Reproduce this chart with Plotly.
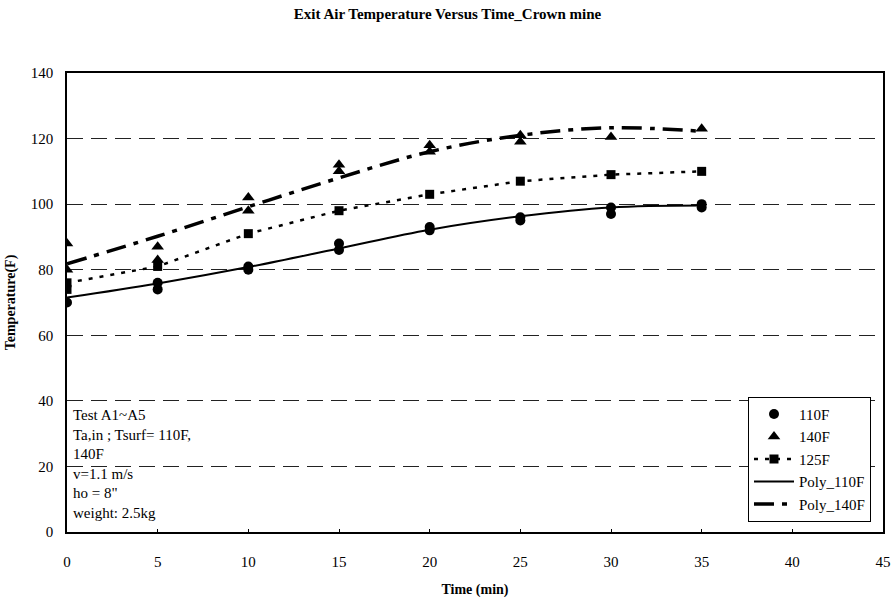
import plotly.graph_objects as go

# ---- data ----
t_110 = [0, 5, 5, 10, 10, 15, 15, 20, 20, 25, 25, 30, 30, 35, 35]
v_110 = [70, 74, 76, 80, 81, 86, 88, 92, 93, 95, 96, 97, 99, 99, 100]

t_140 = [0, 0, 5, 5, 10, 10, 15, 15, 20, 20, 25, 25, 30, 35]
v_140 = [80, 88, 83, 87, 98, 102, 110, 112, 116, 118, 119, 121, 120.5, 123]

t_125 = [0, 5, 10, 15, 20, 25, 30, 35]
v_125 = [76, 81, 91, 98, 103, 107, 109, 110]
t_125_extra = [0]
v_125_extra = [74]

t_poly = [0, 5, 10, 15, 20, 25, 30, 35]
poly_110 = [71.5, 75.8, 80.8, 86.5, 92.2, 96.3, 99.0, 99.6]
poly_140 = [81.8, 90.2, 99.2, 108.0, 116.0, 121.0, 123.3, 122.2]

x_ticks = [0, 5, 10, 15, 20, 25, 30, 35, 40, 45]
y_ticks = [0, 20, 40, 60, 80, 100, 120, 140]

note_lines = ["Test A1~A5", "Ta,in ; Tsurf= 110F,", "140F", "v=1.1 m/s", 'ho = 8"', "weight: 2.5kg"]

FONT = "Liberation Serif"

fig = go.Figure()
fig.add_trace(go.Scatter(x=t_110, y=v_110, mode="markers", name="110F",
                         marker=dict(symbol="circle", size=10, color="black")))
fig.add_trace(go.Scatter(x=t_140, y=v_140, mode="markers", name="140F",
                         marker=dict(symbol="triangle-up", size=11, color="black")))
fig.add_trace(go.Scatter(x=t_125, y=v_125, mode="lines+markers", name="125F",
                         line=dict(color="black", width=2.5, dash="4px,7px"),
                         marker=dict(symbol="square", size=9, color="black")))
fig.add_trace(go.Scatter(x=t_125_extra, y=v_125_extra, mode="markers", showlegend=False,
                         marker=dict(symbol="square", size=9, color="black")))
fig.add_trace(go.Scatter(x=t_poly, y=poly_110, mode="lines", name="Poly_110F",
                         line=dict(color="black", width=2, shape="spline")))
fig.add_trace(go.Scatter(x=t_poly, y=poly_140, mode="lines", name="Poly_140F",
                         line=dict(color="black", width=3.5, shape="spline", dash="20px,8px,5px,8px")))

fig.add_annotation(text="<br>".join(note_lines), xref="paper", yref="y", x=0, y=40,
                   xanchor="left", yanchor="top", xshift=4, yshift=-4, align="left", showarrow=False,
                   font=dict(family=FONT, size=15, color="black"))

fig.update_layout(
    width=895, height=598,
    margin=dict(l=67, r=12, t=73, b=66),
    paper_bgcolor="white", plot_bgcolor="white",
    font=dict(family=FONT, size=13, color="black"),
    title=dict(text="<b>Exit Air Temperature Versus Time_Crown mine</b>",
               x=0.5, xanchor="center", y=1 - 14 / 598, yanchor="middle", yref="container",
               font=dict(family=FONT, size=15, color="black")),
    showlegend=True,
    legend=dict(x=(748 - 67) / 816, y=(531 - 396) / 458, xanchor="left", yanchor="top",
                bgcolor="white", bordercolor="black", borderwidth=1,
                font=dict(family=FONT, size=15, color="black"),
                tracegroupgap=0, itemwidth=40),
)

fig.update_xaxes(range=[0, 45], tickvals=x_ticks, ticktext=[str(v) for v in x_ticks],
                 showgrid=False, zeroline=False, automargin=False,
                 showline=True, linecolor="black", linewidth=1.5, mirror=True,
                 ticks="inside", ticklen=3, tickcolor="black",
                 ticklabelstandoff=15,
                 tickfont=dict(family=FONT, size=15, color="black"),
                 title=dict(text="<b>Time (min)</b>", font=dict(family=FONT, size=14, color="black"),
                            standoff=16))
fig.update_yaxes(range=[0, 140], tickvals=y_ticks, ticktext=[str(v) for v in y_ticks],
                 showgrid=True, gridcolor="#222222", gridwidth=1, griddash="16px,8px",
                 zeroline=False, automargin=False,
                 showline=True, linecolor="black", linewidth=1.5, mirror=True,
                 ticks="", ticklabelstandoff=9,
                 tickfont=dict(family=FONT, size=15, color="black"),
                 title=dict(text="<b>Temperature(F)</b>", font=dict(family=FONT, size=14, color="black"),
                            standoff=12))

fig.write_html("out.html")
